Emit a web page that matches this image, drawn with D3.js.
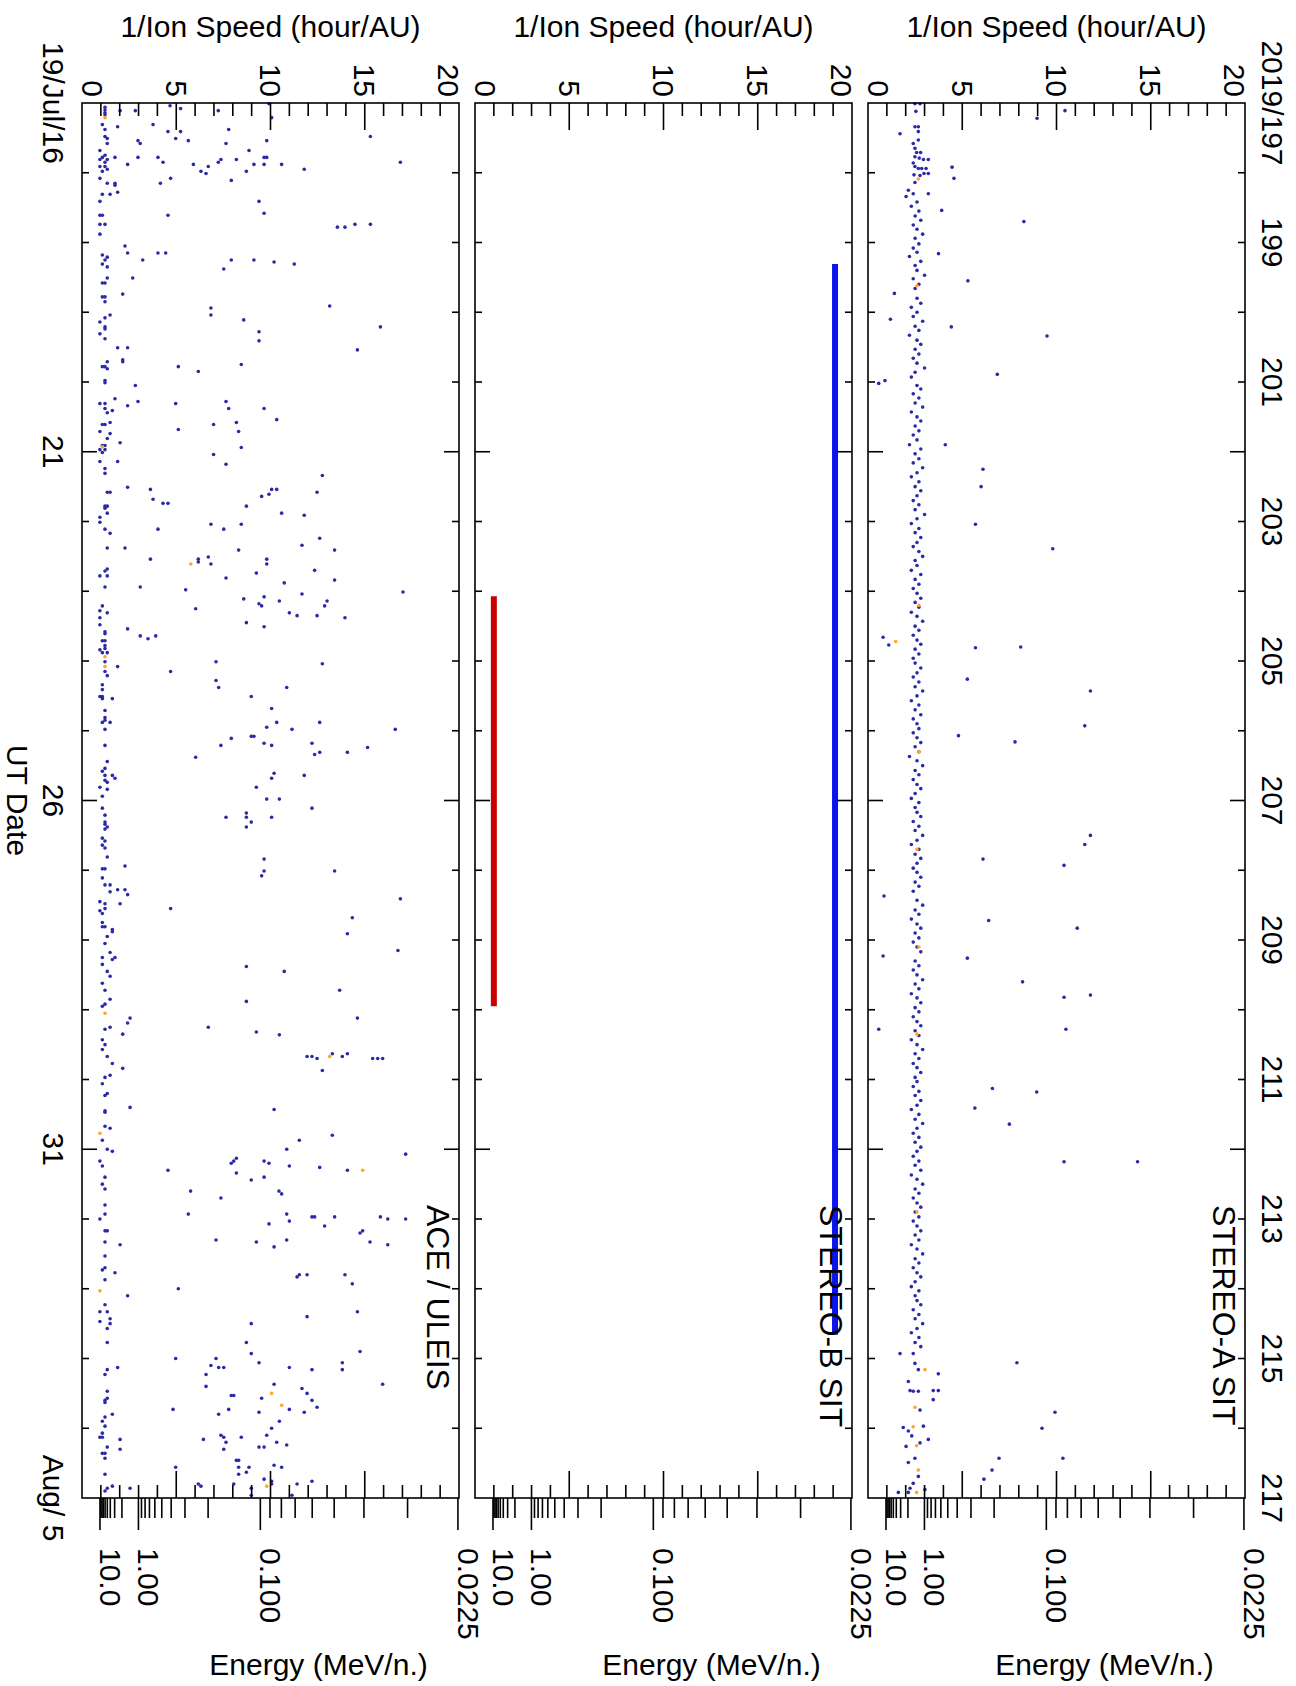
<!DOCTYPE html>
<html>
<head>
<meta charset="utf-8">
<script src="https://cdn.jsdelivr.net/npm/d3@7"></script>
<style>
body { margin: 0; background: #fff; }
text { font-family: "Liberation Sans", Arial, Helvetica, sans-serif; fill: #000; }
</style>
</head>
<body>
<div id="chart"></div>
<script>
// time axis (day of year 2019)
var dayRange = [197, 217];
var topLabelDays = [197, 199, 201, 203, 205, 207, 209, 211, 213, 215, 217];
var topLabels = ['2019/197', '199', '201', '203', '205', '207', '209', '211', '213', '215', '217'];
var bottomLabelDays = [197, 202, 207, 212, 217];
var bottomLabels = ['19/Jul/16', '21', '26', '31', 'Aug/ 5'];

// 1/speed axis (hour/AU) and energy axis (MeV/n.)
var speedRange = [0, 20];
var speedLabels = [0, 5, 10, 15, 20];
var energyMajor = [10, 1, 0.1, 0.0225];
var energyMajorLabels = ['10.0', '1.00', '0.100', '0.0225'];
var energyMinor = [9, 8, 7, 6, 5, 4, 3, 2, 0.9, 0.8, 0.7, 0.6, 0.5, 0.4, 0.3, 0.2,
  0.09, 0.08, 0.07, 0.06, 0.05, 0.04, 0.03];

var panelNames = ['STEREO-A SIT', 'STEREO-B SIT', 'ACE / ULEIS'];

// STEREO-B coverage bars [start day, end day, 1/speed]
var stereoBUpper = [[199.31, 214.66, 19.1]];
var stereoBLower = [[204.07, 209.95, 1.0]];

// STEREO-A points [day, 1/speed]
var stereoA = [
[197.01,2.49],[197.01,2.76],[197.12,2.54],[197.34,2.49],[197.34,2.67],[197.41,2.67],[197.44,1.70],[197.53,2.67],[197.58,2.40],
[197.65,2.49],[197.71,2.58],[197.71,2.79],[197.77,2.49],[197.79,2.72],[197.81,2.94],[197.81,3.20],[197.86,2.40],[197.91,2.49],
[197.94,2.67],[197.94,2.85],[197.94,3.08],[198.03,2.44],[198.04,2.76],[198.01,2.97],[198.01,3.20],[198.14,2.49],[198.25,2.14],
[198.34,2.02],[198.30,2.40],[198.30,3.20],
[197.11,10.45],[197.22,8.97],[197.92,4.46],[198.08,4.56],
[198.70,8.27],[198.54,3.91],[199.55,5.30],[199.16,3.74],[200.10,1.19],[200.34,9.50],[200.21,4.42],[200.89,6.86],[201.02,0.57],
[201.90,4.10],[202.25,6.10],[202.50,6.00],[203.04,5.70],[203.39,9.80],[204.81,5.70],[204.80,8.10],[205.26,5.27],[205.43,11.80],
[206.07,4.80],[206.16,7.80],[205.93,11.50],[207.50,11.80],[207.63,11.50],[207.84,6.10],[207.93,10.40],[208.37,0.85],[208.72,6.40],
[208.83,11.10],[209.26,5.27],[209.60,8.20],[209.82,10.40],[209.79,11.80],[210.28,10.50],[210.28,0.57],[211.13,6.60],[211.41,5.67],
[211.18,8.95],[211.64,7.50],[212.18,10.40],[212.18,14.30],[204.66,0.80],[204.77,1.10],
[214.93,1.70],[214.93,2.40],[215.07,2.49],[215.16,2.67],[215.22,3.73],[215.33,2.14],[215.47,2.40],[215.46,2.23],[215.47,2.67],
[215.46,3.46],[215.46,3.73],[215.59,3.46],[215.74,2.76],[215.99,1.87],[215.97,2.94],[216.04,2.14],[216.11,2.32],[216.16,3.20],
[216.21,2.76],[216.26,2.02],[216.43,2.49],[216.49,2.14],[216.69,2.67],[216.79,2.40],[216.86,2.23],[216.88,3.02],[216.92,1.61],
[216.92,2.14],
[215.06,7.90],[215.77,9.92],[216.00,9.23],[216.43,6.95],[216.43,10.34],[216.60,6.58],[216.73,6.15]
];
// the dense band near 2.5 hour/AU in the middle of the interval
var stereoABand = [
[198.42,2.6],[198.48,2.3],[198.55,2.7],[198.62,2.5],[198.68,2.8],[198.75,2.4],[198.81,2.6],[198.88,2.9],[198.94,2.5],
[199.02,2.7],[199.08,2.4],[199.14,2.6],[199.20,2.2],[199.27,2.8],[199.33,2.5],[199.40,2.6],[199.47,3.0],[199.52,2.4],[199.60,2.7],[199.66,2.5],[199.73,1.4],[199.80,2.6],[199.87,2.8],[199.93,2.3],
[200.00,2.6],[200.06,2.4],[200.13,2.9],[200.20,2.5],[200.26,2.7],[200.33,2.2],[200.40,2.6],[200.46,2.8],[200.53,2.5],[200.60,2.7],[200.66,2.4],[200.73,2.6],[200.80,3.0],[200.86,2.5],[200.93,2.3],
[200.98,0.9],[201.05,2.6],[201.10,2.8],[201.17,2.4],[201.23,2.7],[201.30,2.5],[201.36,2.9],[201.43,2.3],[201.50,2.6],[201.56,2.8],[201.63,2.5],[201.70,2.7],[201.76,2.4],[201.83,2.6],[201.90,2.2],[201.96,2.8],
[202.03,2.5],[202.10,2.7],[202.16,2.4],[202.23,2.9],[202.30,2.6],[202.36,2.3],[202.43,2.7],[202.50,2.5],[202.56,2.8],[202.63,2.6],[202.70,2.4],[202.76,2.7],[202.83,2.5],[202.90,3.0],[202.96,2.6],
[203.03,2.3],[203.10,2.7],[203.16,2.5],[203.23,2.8],[203.30,2.6],[203.36,2.4],[203.43,2.7],[203.50,2.9],[203.56,2.5],[203.63,2.6],[203.70,2.3],[203.76,2.8],[203.83,2.5],[203.90,2.7],[203.96,2.4],
[204.03,2.6],[204.10,2.8],[204.16,2.5],[204.23,2.7],[204.30,2.3],[204.36,2.6],[204.43,2.9],[204.50,2.5],[204.56,2.7],[204.63,2.4],[204.70,2.6],[204.76,2.8],[204.83,2.5],[204.90,2.7],[204.96,2.4],
[205.03,2.5],[205.10,2.8],[205.17,2.6],[205.23,2.4],[205.30,2.7],[205.37,2.5],[205.43,2.9],[205.50,2.6],[205.57,2.3],[205.63,2.7],[205.70,2.5],[205.77,2.8],[205.83,2.4],[205.90,2.6],[205.97,2.7],
[206.03,2.4],[206.10,2.6],[206.17,2.8],[206.23,2.5],[206.30,2.7],[206.37,2.2],[206.43,2.6],[206.50,2.9],[206.57,2.5],[206.63,2.7],[206.70,2.4],[206.77,2.6],[206.83,2.8],[206.90,2.5],[206.97,2.3],
[207.03,2.7],[207.10,2.5],[207.17,2.6],[207.23,2.8],[207.30,2.4],[207.37,2.7],[207.43,2.5],[207.50,2.9],[207.57,2.6],[207.63,2.3],[207.70,2.7],[207.77,2.5],[207.83,2.8],[207.90,2.6],[207.97,2.4],
[208.03,2.6],[208.10,2.8],[208.17,2.5],[208.23,2.7],[208.30,2.4],[208.43,2.6],[208.50,2.9],[208.57,2.5],[208.63,2.7],[208.70,2.3],[208.77,2.6],[208.83,2.8],[208.90,2.5],[208.97,2.7],
[209.03,2.4],[209.10,2.6],[209.17,2.8],[209.23,0.8],[209.30,2.5],[209.37,2.7],[209.43,2.4],[209.50,2.6],[209.57,2.9],[209.63,2.5],[209.70,2.7],[209.77,2.3],[209.83,2.6],[209.90,2.8],[209.97,2.5],
[210.03,2.7],[210.10,2.4],[210.17,2.6],[210.23,2.8],[210.30,2.5],[210.37,2.7],[210.43,2.3],[210.50,2.6],[210.57,2.9],[210.63,2.5],[210.70,2.7],[210.77,2.4],[210.83,2.6],[210.90,2.8],[210.97,2.5],
[211.03,2.6],[211.10,2.4],[211.17,2.7],[211.23,2.5],[211.30,2.8],[211.37,2.6],[211.43,2.3],[211.50,2.7],[211.57,2.5],[211.63,2.9],[211.70,2.6],[211.77,2.4],[211.83,2.7],[211.90,2.5],[211.97,2.8],
[212.03,2.6],[212.10,2.4],[212.17,2.7],[212.23,2.5],[212.30,2.8],[212.37,2.3],[212.43,2.6],[212.50,2.9],[212.57,2.5],[212.63,2.7],[212.70,2.4],[212.77,2.6],[212.83,2.8],[212.90,2.5],[212.97,2.7],
[213.03,2.4],[213.10,2.6],[213.17,2.8],[213.23,2.5],[213.30,2.7],[213.37,2.3],[213.43,2.6],[213.50,2.9],[213.57,2.5],[213.63,2.7],[213.70,2.4],[213.77,2.6],[213.83,2.8],[213.90,2.5],[213.97,2.3],
[214.03,2.7],[214.10,2.5],[214.17,2.6],[214.23,2.8],[214.30,2.4],[214.37,2.7],[214.43,2.5],[214.50,2.9],[214.57,2.6],[214.63,2.3],[214.70,2.7],[214.77,2.5],[214.83,2.8]
];
var stereoAOrange = [
[198.09,2.67],[204.72,1.47],[215.16,3.02],[215.70,2.49],[215.98,2.40],[216.25,2.58],[216.60,2.67],[216.92,2.58],
[199.62,2.6],[204.20,2.7],[206.30,2.7],[207.70,2.6],[209.10,2.7],[210.35,2.6],[212.90,2.6]
];

// ACE / ULEIS points [day, 1/speed]
var ace = [
[197.04,4.67],[197.08,5.23],[197.11,2.02],[197.11,2.83],[197.11,7.23],[197.01,9.92],[197.21,10.06],
[197.06,1.22],[197.10,1.22],[197.14,1.22],[197.17,1.22],
[197.31,1.08],[197.31,3.77],[197.34,1.89],[197.38,1.22],[197.38,7.78],[197.41,4.56],[197.41,5.23],
[197.48,1.22],[197.51,1.34],[197.48,15.30],[197.51,4.97],[197.54,2.97],[197.58,3.09],[197.58,1.34],[197.54,5.64],[197.58,7.64],[197.54,9.80],
[197.68,0.95],[197.68,8.86],[197.75,1.22],[197.78,1.08],[197.81,1.34],[197.85,1.22],[197.81,0.95],[197.78,1.75],[197.78,2.97],[197.78,4.03],[197.85,4.30],[197.81,8.19],[197.81,7.37],[197.85,7.23],[197.78,9.66],[197.78,9.80],[197.88,2.42],[197.88,5.91],[197.91,6.70],[197.88,9.12],[197.88,9.66],[197.88,10.59],[197.85,16.89],
[197.91,0.95],[197.91,1.22],[197.95,1.34],[197.98,1.08],[197.98,6.31],[198.01,6.58],[197.98,8.72],[197.95,11.79],
[198.08,0.95],[198.08,4.70],[198.15,4.16],[198.15,1.34],[198.15,1.75],[198.18,1.75],[198.11,7.92],
[198.28,1.89],[198.31,1.08],[198.31,1.49],[198.41,0.95],[198.41,9.39],
[198.61,0.95],[198.61,1.08],[198.61,4.56],[198.58,9.66],
[198.74,0.95],[198.74,1.22],[198.78,13.55],[198.78,13.95],[198.74,14.48],[198.74,15.30],[198.88,0.95],
[199.05,2.28],[199.15,2.42],[199.15,4.03],[199.15,4.44],[199.18,1.08],[199.21,1.34],[199.25,1.22],[199.25,3.22],[199.25,7.92],[199.25,9.12],[199.28,10.19],[199.31,11.26],[199.31,1.08],[199.35,1.34],[199.38,7.52],
[199.51,1.34],[199.51,2.69],[199.58,1.08],[199.58,1.22],[199.74,2.16],[199.78,1.08],[199.78,1.22],[199.85,1.22],[199.91,13.14],
[199.94,6.84],[200.04,6.84],[200.04,1.49],[200.08,1.22],[200.14,0.95],[200.11,8.58],[200.21,1.22],[200.24,1.22],[200.21,15.83],[200.28,9.39],[200.31,0.95],[200.38,1.22],[200.41,9.39],
[200.51,1.89],[200.51,2.42],[200.54,14.61],
[200.68,2.16],[200.71,2.16],[200.71,1.34],[200.78,1.08],[200.78,1.22],[200.81,1.34],[200.78,5.11],[200.85,6.17],[200.75,8.45],
[200.98,1.22],[201.01,1.22],[201.05,2.83],
[201.24,1.75],[201.31,0.95],[201.31,1.22],[201.34,2.42],[201.28,2.97],[201.31,4.97],[201.28,7.64],[201.38,7.78],[201.38,9.66],[201.38,1.22],[201.41,1.61],[201.44,1.34],
[201.61,1.08],[201.61,1.22],[201.58,1.49],[201.61,6.98],[201.58,8.19],[201.54,10.33],[201.68,5.11],[201.71,0.95],[201.71,8.31],[201.74,1.49],
[201.81,1.34],[201.87,2.02],[201.91,1.08],[201.91,1.22],[201.97,0.95],[201.97,1.22],[202.01,1.08],[201.94,8.45],
[202.04,6.98],[202.14,0.95],[202.14,1.89],[202.18,7.64],[202.24,1.22],[202.31,1.22],[202.34,12.75],
[202.51,2.42],[202.54,3.63],[202.58,1.34],[202.58,1.49],[202.54,10.06],[202.54,10.33],[202.58,12.47],[202.61,9.92],[202.64,9.53],[202.68,3.77],[202.74,4.30],[202.74,4.56],[202.78,8.72],[202.78,1.22],[202.78,1.34],[202.81,1.22],[202.88,1.34],[202.88,10.59],[202.91,11.79],
[202.94,0.95],[203.01,0.95],[203.04,6.84],[203.04,8.45],[203.11,1.22],[203.11,4.03],[203.11,7.52],[203.17,1.49],
[203.24,12.61],[203.34,11.67],[203.38,1.34],[203.38,2.28],[203.41,8.31],[203.41,13.40],
[203.54,3.63],[203.54,6.17],[203.58,6.17],[203.51,6.70],[203.61,6.84],[203.54,9.80],[203.61,9.80],[203.68,1.34],[203.70,12.34],
[203.71,1.22],[203.78,0.95],[203.78,1.34],[203.74,9.25],[203.81,7.64],[203.84,13.40],[203.88,10.73],
[203.94,1.22],[203.94,3.09],[203.98,5.50],[204.01,17.03],[204.04,11.67],[204.11,8.58],[204.08,9.66],[204.14,10.47],[204.14,13.00],
[204.18,9.39],[204.21,9.53],[204.21,12.87],[204.25,6.03],[204.21,1.08],[204.28,0.95],[204.31,1.34],[204.31,11.00],[204.35,11.41],[204.35,12.47],
[204.38,0.95],[204.38,13.95],[204.45,8.72],[204.48,0.95],[204.51,9.66],[204.54,2.42],[204.58,1.22],[204.61,1.22],[204.64,3.09],[204.68,3.50],[204.64,3.91],
[204.71,1.08],[204.71,1.22],[204.78,1.22],[204.82,1.22],[204.84,0.95],[204.88,1.08],[204.88,1.34],
[205.01,1.22],[205.01,7.11],[205.08,1.89],[205.04,12.75],[205.15,4.70],[205.15,1.22],[205.21,1.34],[205.28,7.11],[205.38,7.25],[205.38,10.86],
[205.34,1.08],[205.41,1.08],[205.51,0.95],[205.51,1.08],[205.54,1.08],[205.54,1.61],[205.51,8.98],[205.68,10.06],[205.71,1.22],[205.81,1.22],
[205.88,1.08],[205.85,1.22],[205.88,1.49],[205.88,10.33],[205.88,12.61],[205.95,9.80],[205.98,11.14],[205.98,1.22],[205.98,16.62],
[206.08,8.98],[206.08,9.12],[206.11,7.92],[206.21,7.37],[206.18,9.66],[206.21,10.06],[206.18,12.20],[206.24,15.15],[206.21,1.22],
[206.38,6.03],[206.34,12.34],[206.31,12.61],[206.31,14.08],[206.44,1.34],[206.54,1.22],[206.58,1.08],[206.64,1.22],[206.64,1.61],[206.68,1.75],
[206.61,10.19],[206.68,10.06],[206.64,11.79],[206.71,1.22],[206.74,1.34],[206.81,0.95],[206.81,9.25],[206.84,1.34],[206.94,1.08],[206.98,9.80],[206.98,10.47],
[207.11,1.08],[207.11,12.20],[207.21,1.22],[207.18,8.72],[207.24,7.64],[207.24,8.72],[207.24,10.06],[207.31,8.98],[207.31,1.22],[207.34,1.22],[207.38,1.34],[207.38,8.72],[207.41,1.22],
[207.54,1.08],[207.58,1.22],[207.64,1.08],[207.68,1.22],[207.81,1.34],[207.84,9.66],[207.98,1.08],[207.98,1.22],[207.94,2.28],[208.01,9.66],[208.01,13.40],[208.08,9.53],[208.11,1.08],
[208.21,1.22],[208.21,1.49],[208.28,1.89],[208.28,2.28],[208.31,1.49],[208.35,2.42],[208.41,16.89],[208.45,0.95],[208.48,1.22],[208.48,2.02],[208.55,1.22],[208.55,4.70],
[208.58,0.95],[208.62,1.08],[208.68,14.34],[208.75,1.08],[208.81,1.08],[208.81,1.22],[208.85,1.61],[208.88,1.61],[208.91,14.08],[208.95,1.34],[209.05,1.22],
[209.15,16.76],[209.18,1.49],[209.25,1.08],[209.25,1.75],[209.28,1.61],[209.35,1.08],[209.38,8.72],[209.45,10.73],[209.45,1.34],[209.52,1.49],[209.62,1.08],
[209.72,1.22],[209.72,13.67],[209.85,1.49],[209.88,8.72],[209.95,1.08],[209.92,1.22],[210.12,2.55],[210.12,14.61],[210.19,2.42],[210.28,1.22],[210.25,1.49],[210.25,6.70],
[210.32,9.25],[210.35,2.16],[210.36,10.47],
[210.43,1.08],[210.50,1.22],[210.57,1.08],[210.67,1.34],[210.77,1.61],[210.84,2.16],[210.94,1.49],[210.97,1.22],[211.06,1.08],[211.23,1.22],[211.20,1.34],
[211.45,1.22],[211.47,1.22],[211.40,2.55],[211.43,10.19],[211.67,1.22],[211.70,1.49],[211.87,1.08],[212.00,1.34],[212.03,1.61],
[210.67,11.94],[210.67,12.20],[210.70,12.47],[210.63,13.28],[210.67,13.81],[210.63,14.08],[210.70,15.42],[210.70,15.69],[210.70,15.95],[210.87,12.75],
[211.80,13.28],[211.87,11.53],[212.00,10.86],[212.07,17.17],
[212.17,0.95],[212.24,1.08],[212.40,1.22],[212.50,1.08],[212.57,1.22],[212.30,4.56],[212.20,7.92],[212.17,8.05],[212.13,8.19],[212.34,8.19],[212.17,9.66],[212.20,9.92],
[212.24,11.00],[212.26,12.61],[212.30,14.08],[212.44,8.98],[212.40,9.66],[212.60,10.45],[212.64,10.59],[212.60,5.76],[212.70,7.37],
[212.80,1.22],[212.93,1.22],[213.00,0.95],[212.93,5.64],[212.93,10.86],[213.03,11.00],[213.07,9.92],[212.97,12.20],[212.97,12.34],[212.97,13.40],[213.10,12.87],
[212.97,15.83],[213.00,16.22],[213.00,17.17],[213.17,14.89],[213.20,14.75],[213.17,1.22],[213.17,1.34],[213.33,1.22],[213.37,2.02],[213.30,7.11],[213.33,9.25],
[213.30,10.86],[213.40,10.19],[213.33,15.28],[213.37,16.22],[213.53,1.22],[213.73,1.08],[213.70,1.22],[213.77,1.75],[213.87,1.22],[213.80,11.53],[213.83,11.41],
[213.80,11.94],[213.80,13.95],[213.93,14.34],[214.00,5.11],[214.10,2.42],[214.23,1.22],[214.33,0.95],[214.33,1.34],[214.43,1.49],[214.47,0.95],[214.50,1.49],
[214.57,1.34],[214.40,11.94],[214.33,14.61],[214.50,8.98],[214.77,8.72],[214.77,1.34],[214.93,8.98],[214.90,14.75],[215.06,9.39],[215.00,4.97],[215.00,7.11],
[215.10,6.84],[215.13,7.25],[215.13,7.52],[215.13,11.00],[215.16,12.20],[215.06,13.81],[215.16,13.81],[215.13,1.89],[215.16,1.34],[215.23,1.22],[215.23,6.58],
[215.40,6.58],[215.37,10.19],[215.37,15.95],[215.43,11.67],[215.50,11.94],[215.47,1.34],[215.53,7.92],[215.53,8.05],[215.57,9.53],[215.57,1.34],[215.60,1.22],
[215.63,1.22],[215.60,12.20],[215.70,12.47],[215.73,4.83],[215.73,7.78],[215.73,11.00],[215.77,9.39],[215.77,11.79],[215.80,7.25],[215.80,1.61],[215.84,1.22],
[215.90,1.08],[215.90,10.47],[215.97,1.22],[216.00,10.06],[216.07,1.08],[216.13,0.95],[216.13,1.08],[216.10,7.37],[216.13,7.52],[216.13,8.45],[216.10,9.80],
[216.20,7.64],[216.16,6.44],[216.16,2.02],[216.20,10.33],[216.24,10.86],[216.27,1.34],[216.27,9.39],[216.27,9.66],[216.30,7.52],[216.30,2.02],[216.36,1.08],
[216.36,1.22],[216.43,1.22],[216.46,8.19],[216.46,8.31],[216.56,4.97],[216.56,8.31],[216.56,8.86],[216.53,10.19],[216.56,10.59],[216.63,8.72],[216.66,8.31],
[216.66,1.22],[216.80,6.17],[216.83,6.31],[216.80,8.05],[216.80,11.41],[216.76,12.20],[216.76,10.06],[216.80,10.06],[216.86,8.98],[216.73,9.66],[216.86,2.55],
[216.83,1.61],[216.86,1.34],[216.90,1.22],[216.96,8.98],[216.96,11.14]
];
var aceOrange = [
[197.21,1.22],[201.93,1.08],[203.61,5.77],[204.94,1.22],[205.08,1.22],[210.05,1.22],[211.77,0.95],[210.67,13.14],[212.30,14.89],
[214.03,0.95],[215.50,10.06],[215.67,10.59],[216.83,9.80]
];

var panelData = [
  { name: panelNames[0], pts: stereoA.concat(stereoABand), orange: stereoAOrange, bars: [] },
  { name: panelNames[1], pts: [], orange: [], bars: [{ d: stereoBUpper, c: '#0a14ee' }, { d: stereoBLower, c: '#c80000' }] },
  { name: panelNames[2], pts: ace, orange: aceOrange, bars: [] }
];

// energy per nucleon -> 1/speed in hour/AU
function invSpeed(E) {
  var g = 1 + E / 931.494;
  var beta = Math.sqrt(1 - 1 / (g * g));
  return 1.495978707e8 / (beta * 299792.458) / 3600;
}

var W = 1296, H = 1686;
var fontSize = 30;
// everything is laid out landscape, then turned a quarter clockwise
var left = 103, right = 1498, panelH = 377;
var panelTops = [51, 444, 837];

var svg = d3.select('#chart').append('svg')
  .attr('width', W).attr('height', H);
svg.append('rect').attr('width', W).attr('height', H).attr('fill', '#fff');

var g = svg.append('g')
  .attr('transform', 'translate(' + W + ',0) rotate(90)');

var x = d3.scaleLinear().domain(dayRange).range([left, right]);

panelData.forEach(function(p, i) {
  var top = panelTops[i];
  var y = d3.scaleLinear().domain(speedRange).range([top + panelH, top]);
  var pg = g.append('g');

  // bars
  p.bars.forEach(function(b) {
    pg.selectAll(null).data(b.d).enter().append('line')
      .attr('x1', function(d) { return x(d[0]); })
      .attr('x2', function(d) { return x(d[1]); })
      .attr('y1', function(d) { return y(d[2]); })
      .attr('y2', function(d) { return y(d[2]); })
      .attr('stroke', b.c).attr('stroke-width', 6);
  });

  // points
  pg.selectAll('.pt').data(p.pts).enter().append('circle')
    .attr('cx', function(d) { return x(d[0]); })
    .attr('cy', function(d) { return y(d[1]); })
    .attr('r', 1.8)
    .attr('fill', '#2a2aa6');
  pg.selectAll('.or').data(p.orange).enter().append('circle')
    .attr('cx', function(d) { return x(d[0]); })
    .attr('cy', function(d) { return y(d[1]); })
    .attr('r', 1.8)
    .attr('fill', '#ffa528');

  // frame
  pg.append('rect')
    .attr('x', left).attr('y', top)
    .attr('width', right - left).attr('height', panelH)
    .attr('fill', 'none').attr('stroke', '#000').attr('stroke-width', 1.6);

  // day ticks, top and bottom, pointing in
  var days = d3.range(dayRange[0] + 1, dayRange[1]);
  var tlen = function(d) { return (d - dayRange[0]) % 5 === 0 ? 15 : 7; };
  pg.selectAll(null).data(days).enter().append('line')
    .attr('x1', x).attr('x2', x)
    .attr('y1', top).attr('y2', function(d) { return top + tlen(d); })
    .attr('stroke', '#000').attr('stroke-width', 1.6);
  pg.selectAll(null).data(days).enter().append('line')
    .attr('x1', x).attr('x2', x)
    .attr('y1', top + panelH).attr('y2', function(d) { return top + panelH - tlen(d); })
    .attr('stroke', '#000').attr('stroke-width', 1.6);

  // 1/speed ticks, left and right, pointing in
  var sv = d3.range(1, 20);
  var slen = function(v) { return v % 5 === 0 ? 27 : 13; };
  pg.selectAll(null).data(sv).enter().append('line')
    .attr('y1', y).attr('y2', y)
    .attr('x1', left).attr('x2', function(v) { return left + slen(v); })
    .attr('stroke', '#000').attr('stroke-width', 1.6);
  pg.selectAll(null).data(sv).enter().append('line')
    .attr('y1', y).attr('y2', y)
    .attr('x1', right).attr('x2', function(v) { return right - slen(v); })
    .attr('stroke', '#000').attr('stroke-width', 1.6);

  // 1/speed labels on the left
  pg.selectAll(null).data(speedLabels).enter().append('text')
    .attr('x', left - 6).attr('y', y)
    .attr('dy', function(v) { return v === speedRange[0] ? '0' : (v === speedRange[1] ? '0.7em' : '0.35em'); })
    .attr('text-anchor', 'end')
    .style('font-size', fontSize + 'px')
    .text(function(v) { return v; });

  // energy ticks on the right, pointing out
  pg.selectAll(null).data(energyMinor).enter().append('line')
    .attr('y1', function(e) { return y(invSpeed(e)); })
    .attr('y2', function(e) { return y(invSpeed(e)); })
    .attr('x1', right).attr('x2', right + 20)
    .attr('stroke', '#000').attr('stroke-width', 1.6);
  pg.selectAll(null).data(energyMajor).enter().append('line')
    .attr('y1', function(e) { return y(invSpeed(e)); })
    .attr('y2', function(e) { return y(invSpeed(e)); })
    .attr('x1', right).attr('x2', right + 32)
    .attr('stroke', '#000').attr('stroke-width', 1.6);
  pg.selectAll(null).data(energyMajor).enter().append('text')
    .attr('x', right + 50)
    .attr('y', function(e) { return y(invSpeed(e)); })
    .style('font-size', fontSize + 'px')
    .text(function(e, j) { return energyMajorLabels[j]; });

  // axis titles (upright on the page)
  var yc = top + panelH / 2;
  pg.append('text')
    .attr('transform', 'translate(37,' + yc + ') rotate(-90)')
    .attr('text-anchor', 'middle')
    .style('font-size', fontSize + 'px')
    .text('1/Ion Speed (hour/AU)');
  pg.append('text')
    .attr('transform', 'translate(1675,' + (yc - 48) + ') rotate(-90)')
    .attr('text-anchor', 'middle')
    .style('font-size', fontSize + 'px')
    .text('Energy (MeV/n.)');

  // panel name
  pg.append('text')
    .attr('x', 1205).attr('y', top + 32)
    .style('font-size', '32px')
    .text(p.name);
});

// date labels on the outer edges
g.selectAll(null).data(topLabelDays).enter().append('text')
  .attr('x', x).attr('y', panelTops[0] - 17)
  .attr('text-anchor', 'middle')
  .style('font-size', fontSize + 'px')
  .text(function(d, i) { return topLabels[i]; });
var lastBottom = panelTops[2] + panelH;
g.selectAll(null).data(bottomLabelDays).enter().append('text')
  .attr('x', x).attr('y', lastBottom + 39)
  .attr('text-anchor', 'middle')
  .style('font-size', fontSize + 'px')
  .text(function(d, i) { return bottomLabels[i]; });
g.append('text')
  .attr('x', x(207)).attr('y', lastBottom + 75)
  .attr('text-anchor', 'middle')
  .style('font-size', fontSize + 'px')
  .text('UT Date');
</script>
</body>
</html>
